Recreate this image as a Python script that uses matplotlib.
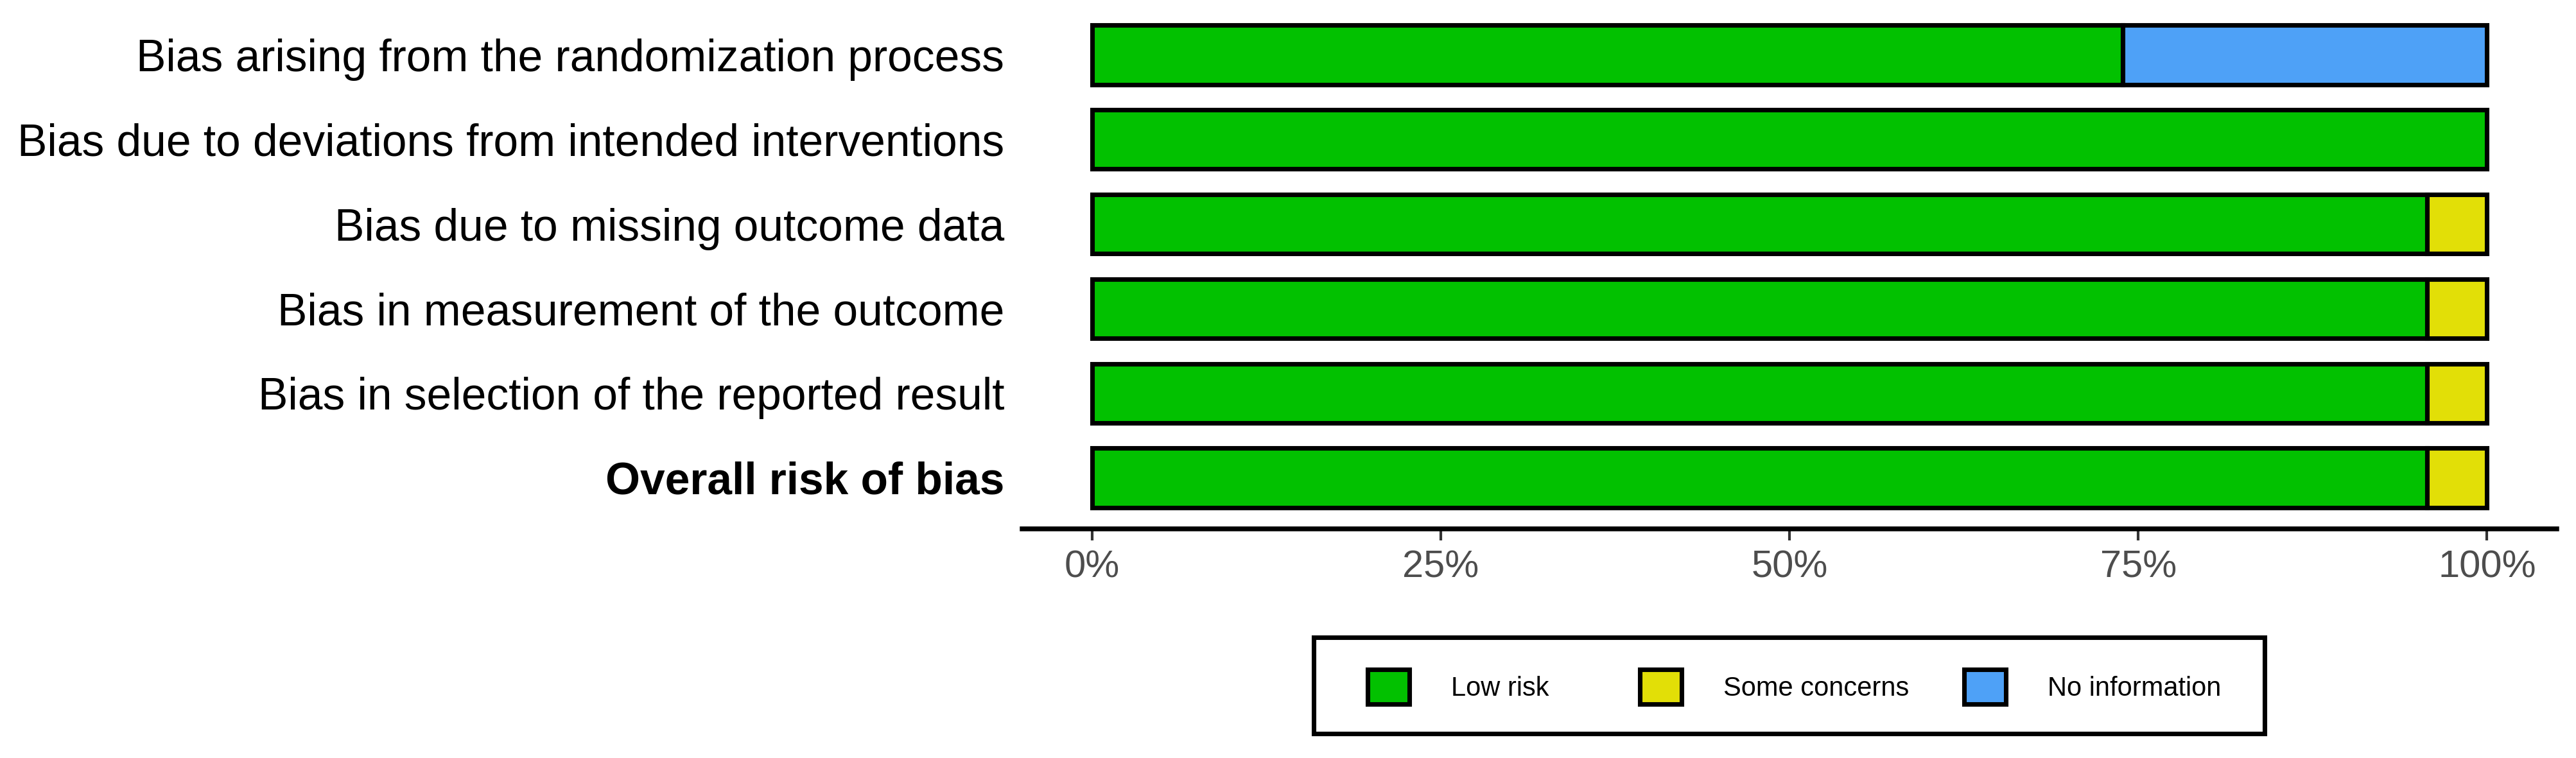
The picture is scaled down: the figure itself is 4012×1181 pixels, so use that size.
import numpy as np
import matplotlib.pyplot as plt
from matplotlib.patches import Patch, Rectangle

plt.rcParams['font.family'] = ['Liberation Sans', 'DejaVu Sans']

# domains, top to bottom
domains = ['Bias arising from the randomization process',
           'Bias due to deviations from intended interventions',
           'Bias due to missing outcome data',
           'Bias in measurement of the outcome',
           'Bias in selection of the reported result',
           'Overall risk of bias']

# percent of studies per judgement
low_risk = [73.9, 100.0, 95.7, 95.7, 95.7, 95.7]
some_concerns = [0.0, 0.0, 4.3, 4.3, 4.3, 4.3]
no_info = [26.1, 0.0, 0.0, 0.0, 0.0, 0.0]

judgements = ['Low risk', 'Some concerns', 'No information']
colours = ['#02C100', '#E2DF07', '#4EA1F7']

W, H, DPI = 4012, 1181, 300
fig = plt.figure(figsize=(W/DPI, H/DPI), dpi=DPI)
# axes placed in pixels
x0, x1 = 1592, 3982
y_top, y_bot = 6.5, 823.5
ax = fig.add_axes([x0/W, 1-y_bot/H, (x1-x0)/W, (y_bot-y_top)/H])

y = np.arange(1, len(domains)+1)
lw = 1.7
left = np.zeros(len(domains))
for vals, col in zip([low_risk, some_concerns, no_info], colours):
    v = np.array(vals)/100.0
    mask = v > 0
    ax.barh(y[mask], v[mask], left=left[mask], height=0.7, color=col,
            edgecolor='black', linewidth=lw)
    left += v

ax.set_xlim(-0.05, 1.05)
ax.set_ylim(6.6, 0.4)
ax.set_xticks([0, 0.25, 0.5, 0.75, 1.0])
ax.set_xticklabels(['0%', '25%', '50%', '75%', '100%'])
ax.set_yticks(y)
ax.set_yticklabels(domains)
for lab in ax.get_yticklabels():
    if lab.get_text() == 'Overall risk of bias':
        lab.set_fontweight('bold')

for s in ['top', 'left', 'right']:
    ax.spines[s].set_visible(False)
ax.spines['bottom'].set_linewidth(1.8)
ax.spines['bottom'].set_color('black')
ax.tick_params(axis='y', length=0, pad=6.7, labelsize=16.7, labelcolor='black')
ax.tick_params(axis='x', length=4.3, width=1.0, color='#333333', pad=3.6,
               labelsize=14.3, labelcolor='#4D4D4D')

# legend: one entry per key, placed at the key's left edge (pixels)
key_x = [2126, 2550, 3055]
key_y = 1070
for c, j, kx in zip(colours, judgements, key_x):
    h = Patch(facecolor=c, edgecolor='black', linewidth=lw, label=j)
    leg = fig.legend(handles=[h], frameon=False, fontsize=10,
                     handlelength=1.56, handleheight=1.61, handletextpad=1.57,
                     borderpad=0, borderaxespad=0, loc='center left',
                     bbox_to_anchor=((kx + 3.5)/W, 1-key_y/H))
fig.patches.append(Rectangle((2046/W, 1-1143/H), (3527-2046)/W, (1143-993)/H,
                             transform=fig.transFigure, fill=False,
                             edgecolor='black', linewidth=lw))

fig.savefig('out.png', dpi=DPI, facecolor='white')
